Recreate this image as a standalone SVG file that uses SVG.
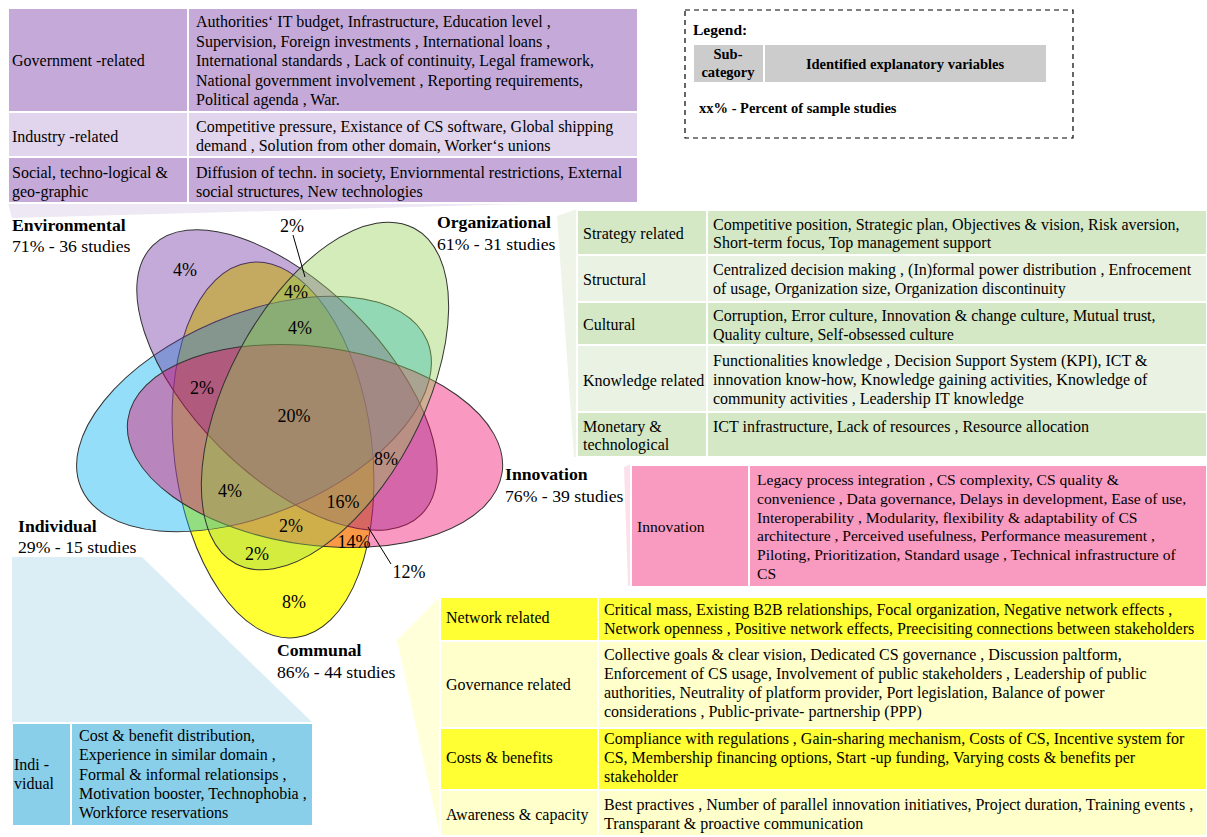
<svg xmlns="http://www.w3.org/2000/svg" width="1207" height="837" viewBox="0 0 1207 837">
<style>
text{font-family:"Liberation Serif","Times New Roman",serif;fill:#000}
.t{font-size:16px}
.ti{font-size:15.6px}
.p{font-size:18px;text-anchor:middle}
.lb{font-size:17.7px;font-weight:bold}
.ls{font-size:17.7px}
.lg{font-size:14.5px;font-weight:bold}
.cell{stroke:#fff;stroke-width:2}
.ell{stroke:#333;stroke-width:1}
.lead{stroke:#000;stroke-width:1;fill:none}
</style>
<rect width="1207" height="837" fill="#fff"/>
<g id="callouts">
<polygon points="8,203 560,203 12,218" fill="#EEE7F4"/>
<polygon points="577,209 557,216 574,457 577,457" fill="#EEF5E8"/>
<polygon points="631,464 624,467 628,586 631,586" fill="#FCE1EC"/>
<polygon points="440,597 397,640 440,835" fill="#FFFFD9"/>
<polygon points="12,557 142,557 313,723 12,723" fill="#DBEEF6"/>
</g>
<g id="venn">
<g id="communal-set"><ellipse class="ell" cx="273" cy="450" rx="189" ry="99" transform="rotate(83 273 450)" fill="#FFFF33"/></g>
<g id="individual-set"><ellipse class="ell" cx="254" cy="414" rx="188" ry="100" transform="rotate(-23 254 414)" fill="#00B0F0" fill-opacity="0.42"/></g>
<g id="environmental-set"><ellipse class="ell" cx="287" cy="380" rx="190" ry="95" transform="rotate(45 287 380)" fill="#7030A0" fill-opacity="0.41"/></g>
<g id="innovation-set"><ellipse class="ell" cx="315" cy="446" rx="189" ry="99" transform="rotate(8 315 446)" fill="#F00064" fill-opacity="0.4"/></g>
<g id="organizational-set"><ellipse class="ell" cx="325" cy="396" rx="190" ry="97" transform="rotate(-62 325 396)" fill="#92D050" fill-opacity="0.4"/></g>
</g>
<g id="connectors">
<line class="lead" x1="293" y1="235" x2="305" y2="277"/>
<line class="lead" x1="368" y1="527" x2="391" y2="564"/>
</g>
<g id="percentages">
<text class="p" x="292" y="232">2%</text>
<text class="p" x="185" y="276">4%</text>
<text class="p" x="296" y="298">4%</text>
<text class="p" x="300" y="334">4%</text>
<text class="p" x="202" y="394">2%</text>
<text class="p" x="294" y="422">20%</text>
<text class="p" x="386" y="465">8%</text>
<text class="p" x="230" y="497">4%</text>
<text class="p" x="343" y="508">16%</text>
<text class="p" x="291" y="532">2%</text>
<text class="p" x="354" y="548">14%</text>
<text class="p" x="257" y="560">2%</text>
<text class="p" x="409" y="578">12%</text>
<text class="p" x="294" y="608">8%</text>
</g>
<g id="set-labels">
<text class="lb" x="12" y="231">Environmental</text>
<text class="ls" x="12" y="252">71% - 36 studies</text>
<text class="lb" x="437" y="228">Organizational</text>
<text class="ls" x="437" y="250">61% - 31 studies</text>
<text class="lb" x="505" y="480">Innovation</text>
<text class="ls" x="505" y="502">76% - 39 studies</text>
<text class="lb" x="18" y="532">Individual</text>
<text class="ls" x="18" y="553">29% - 15 studies</text>
<text class="lb" x="277" y="656">Communal</text>
<text class="ls" x="277" y="678">86% - 44 studies</text>
</g>
<g id="environmental-table">
<rect class="cell" x="8" y="8" width="180" height="104" fill="#C5AAD9"/>
<rect class="cell" x="188" y="8" width="450" height="104" fill="#C5AAD9"/>
<rect class="cell" x="8" y="112" width="180" height="45" fill="#E0D5EC"/>
<rect class="cell" x="188" y="112" width="450" height="45" fill="#E0D5EC"/>
<rect class="cell" x="8" y="157" width="180" height="46" fill="#C5AAD9"/>
<rect class="cell" x="188" y="157" width="450" height="46" fill="#C5AAD9"/>
<text class="t" x="12" y="66">Government -related</text>
<text class="t" x="196" y="27">Authorities‘ IT budget, Infrastructure, Education level ,</text>
<text class="t" x="196" y="46.5">Supervision, Foreign investments , International loans ,</text>
<text class="t" x="196" y="66">International standards , Lack of continuity, Legal framework,</text>
<text class="t" x="196" y="85.5">National government involvement , Reporting requirements,</text>
<text class="t" x="196" y="105">Political agenda , War.</text>
<text class="t" x="12" y="142">Industry -related</text>
<text class="t" x="196" y="132">Competitive pressure, Existance of CS software, Global shipping</text>
<text class="t" x="196" y="151">demand , Solution from other domain, Worker‘s unions</text>
<text class="t" x="12" y="178">Social, techno-logical &amp;</text>
<text class="t" x="12" y="197">geo-graphic</text>
<text class="t" x="196" y="178">Diffusion of techn. in society, Enviornmental restrictions, External</text>
<text class="t" x="196" y="197">social structures, New technologies</text>
</g>
<g id="legend">
<rect x="685" y="10" width="388" height="128" fill="none" stroke="#000" stroke-width="1.2" stroke-dasharray="5,4"/>
<text class="lg" x="693" y="35" style="font-size:15.5px">Legend:</text>
<rect class="cell" x="693" y="44" width="71" height="39" fill="#CCCCCC"/>
<rect class="cell" x="764" y="44" width="283" height="39" fill="#CCCCCC"/>
<text class="lg" x="728" y="59" text-anchor="middle">Sub-</text>
<text class="lg" x="728" y="77" text-anchor="middle">category</text>
<text class="lg" x="905" y="69" text-anchor="middle">Identified explanatory variables</text>
<text class="lg" x="699" y="113">xx% - Percent of sample studies</text>
</g>
<g id="organizational-table">
<rect class="cell" x="577" y="210" width="130" height="45" fill="#D5E8C6"/>
<rect class="cell" x="707" y="210" width="500" height="45" fill="#D5E8C6"/>
<rect class="cell" x="577" y="255" width="130" height="47" fill="#EAF3E3"/>
<rect class="cell" x="707" y="255" width="500" height="47" fill="#EAF3E3"/>
<rect class="cell" x="577" y="302" width="130" height="43" fill="#D5E8C6"/>
<rect class="cell" x="707" y="302" width="500" height="43" fill="#D5E8C6"/>
<rect class="cell" x="577" y="345" width="130" height="67" fill="#EAF3E3"/>
<rect class="cell" x="707" y="345" width="500" height="67" fill="#EAF3E3"/>
<rect class="cell" x="577" y="412" width="130" height="45" fill="#D5E8C6"/>
<rect class="cell" x="707" y="412" width="500" height="45" fill="#D5E8C6"/>
<text class="t" x="583" y="239">Strategy related</text>
<text class="t" x="713" y="230">Competitive position, Strategic plan, Objectives &amp; vision, Risk aversion,</text>
<text class="t" x="713" y="248">Short-term focus, Top management support</text>
<text class="t" x="583" y="285">Structural</text>
<text class="t" x="713" y="275">Centralized decision making , (In)formal power distribution , Enfrocement</text>
<text class="t" x="713" y="294">of usage, Organization size, Organization discontinuity</text>
<text class="t" x="583" y="330">Cultural</text>
<text class="t" x="713" y="321">Corruption, Error culture, Innovation &amp; change culture, Mutual trust,</text>
<text class="t" x="713" y="340">Quality culture, Self-obsessed culture</text>
<text class="t" x="583" y="386">Knowledge related</text>
<text class="t" x="713" y="366">Functionalities knowledge , Decision Support System (KPI), ICT &amp;</text>
<text class="t" x="713" y="385">innovation know-how, Knowledge gaining activities, Knowledge of</text>
<text class="t" x="713" y="404">community activities , Leadership IT knowledge</text>
<text class="t" x="583" y="432">Monetary &amp;</text>
<text class="t" x="583" y="450">technological</text>
<text class="t" x="713" y="432">ICT infrastructure, Lack of resources , Resource allocation</text>
</g>
<g id="innovation-table">
<rect class="cell" x="631" y="465" width="118" height="122" fill="#F99BC1"/>
<rect class="cell" x="749" y="465" width="458" height="122" fill="#F99BC1"/>
<text class="ti" x="637" y="532">Innovation</text>
<text class="ti" x="757" y="485">Legacy process integration , CS complexity, CS quality &amp;</text>
<text class="ti" x="757" y="503.8">convenience , Data governance, Delays in development, Ease of use,</text>
<text class="ti" x="757" y="522.6">Interoperability , Modularity, flexibility &amp; adaptability of CS</text>
<text class="ti" x="757" y="541.4">architecture , Perceived usefulness, Performance measurement ,</text>
<text class="ti" x="757" y="560.2">Piloting, Prioritization, Standard usage , Technical infrastructure of</text>
<text class="ti" x="757" y="579">CS</text>
</g>
<g id="communal-table">
<rect class="cell" x="440" y="597" width="158" height="44" fill="#FFFF33"/>
<rect class="cell" x="598" y="597" width="609" height="44" fill="#FFFF33"/>
<rect class="cell" x="440" y="641" width="158" height="87" fill="#FFFFCC"/>
<rect class="cell" x="598" y="641" width="609" height="87" fill="#FFFFCC"/>
<rect class="cell" x="440" y="728" width="158" height="62" fill="#FFFF33"/>
<rect class="cell" x="598" y="728" width="609" height="62" fill="#FFFF33"/>
<rect class="cell" x="440" y="790" width="158" height="46" fill="#FFFFCC"/>
<rect class="cell" x="598" y="790" width="609" height="46" fill="#FFFFCC"/>
<text class="t" x="446" y="623">Network related</text>
<text class="t" x="604" y="615">Critical mass, Existing B2B relationships, Focal organization, Negative network effects ,</text>
<text class="t" x="604" y="634">Network openness , Positive network effects, Preecisiting connections between stakeholders</text>
<text class="t" x="446" y="690">Governance related</text>
<text class="t" x="604" y="660">Collective goals &amp; clear vision, Dedicated CS governance , Discussion paltform,</text>
<text class="t" x="604" y="679">Enforcement of CS usage, Involvement of public stakeholders , Leadership of public</text>
<text class="t" x="604" y="698">authorities, Neutrality of platform provider, Port legislation, Balance of power</text>
<text class="t" x="604" y="717">considerations , Public-private- partnership (PPP)</text>
<text class="t" x="446" y="763">Costs &amp; benefits</text>
<text class="t" x="604" y="744">Compliance with regulations , Gain-sharing mechanism, Costs of CS, Incentive system for</text>
<text class="t" x="604" y="763">CS, Membership financing options, Start -up funding, Varying costs &amp; benefits per</text>
<text class="t" x="604" y="782">stakeholder</text>
<text class="t" x="446" y="820">Awareness &amp; capacity</text>
<text class="t" x="604" y="810">Best practives , Number of parallel innovation initiatives, Project duration, Training events ,</text>
<text class="t" x="604" y="829">Transparant &amp; proactive communication</text>
</g>
<g id="individual-table">
<rect class="cell" x="12" y="723" width="59" height="103" fill="#89CFEA"/>
<rect class="cell" x="71" y="723" width="242" height="103" fill="#89CFEA"/>
<text class="t" x="14" y="770">Indi -</text>
<text class="t" x="14" y="789">vidual</text>
<text class="t" x="79" y="741">Cost &amp; benefit distribution,</text>
<text class="t" x="79" y="760">Experience in similar domain ,</text>
<text class="t" x="79" y="780">Formal &amp; informal relationsips ,</text>
<text class="t" x="79" y="799">Motivation booster, Technophobia ,</text>
<text class="t" x="79" y="818">Workforce reservations</text>
</g>
</svg>
